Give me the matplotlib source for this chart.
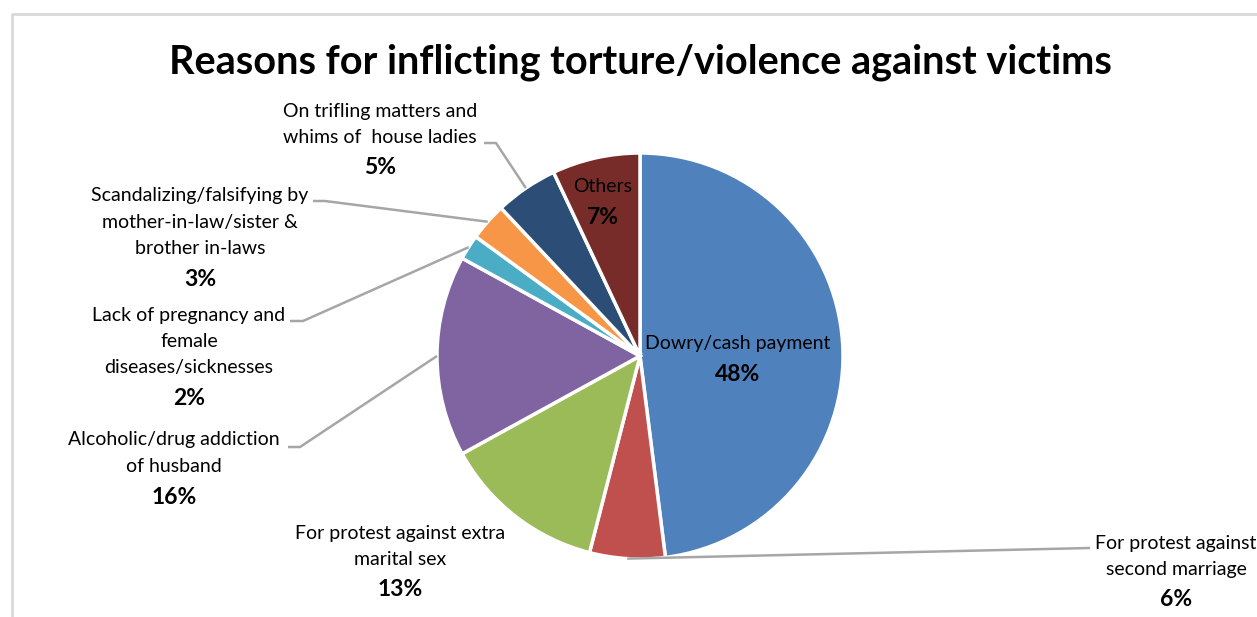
import numpy as np
import matplotlib
matplotlib.use("Agg")
import matplotlib.pyplot as plt

plt.rcParams["font.family"] = ["Lato", "DejaVu Sans"]

# slices, clockwise from 12 o'clock
reasons = [
    "Dowry/cash payment",
    "For protest against\nsecond marriage",
    "For protest against extra\nmarital sex",
    "Alcoholic/drug addiction\nof husband",
    "Lack of pregnancy and\nfemale\ndiseases/sicknesses",
    "Scandalizing/falsifying by\nmother-in-law/sister &\nbrother in-laws",
    "On trifling matters and\nwhims of  house ladies",
    "Others",
]
shares = [48, 6, 13, 16, 2, 3, 5, 7]
colors = ["#4F81BD", "#C0504D", "#9BBB59", "#8064A2",
          "#4BACC6", "#F79646", "#2C4D75", "#772C2A"]

W, H = 1257, 617
CX, CY, R = 640, 356, 203   # pie centre / radius in pixels (y from top)


def Y(py):
    return H - py


fig = plt.figure(figsize=(W / 100, H / 100), dpi=100)
ax = fig.add_axes([0, 0, 1, 1])

ax.pie(shares, colors=colors, startangle=90, counterclock=False,
       center=(CX, Y(CY)), radius=R,
       wedgeprops=dict(edgecolor="white", linewidth=2.5))
ax.set_xlim(0, W)
ax.set_ylim(0, H)
ax.set_aspect("equal")
ax.axis("off")

# chart frame (left and top edges only are in view)
ax.plot([12, 12, W], [0, Y(14), Y(14)], color="#D9D9D9", lw=2, clip_on=False)

ax.text(640, Y(62), "Reasons for inflicting torture/violence against victims",
        ha="center", va="center", fontsize=28.5, fontweight="bold", color="black")

# label placement: (centre x, first line y, leader start, leader bend) ; None = inside
label_pos = [
    (738, 344, None, None),
    (1176, 543, (1090, 548), None),
    (400, 533, None, None),
    (174, 440, (288, 447), (300, 447)),
    (189, 315, (290, 321), (303, 321)),
    (200, 196, (313, 201), (325, 201)),
    (380, 111, (484, 143), (496, 143)),
    (603, 187, None, None),
]

LS = 26.5
cum = np.cumsum([0] + shares[:-1])
for name, pct, c0, (lx, ly, p0, p1) in zip(reasons, shares, cum, label_pos):
    lines = name.split("\n")
    for i, ln in enumerate(lines):
        ax.text(lx, Y(ly + i * LS), ln, ha="center", va="center",
                fontsize=14, color="black")
    ax.text(lx, Y(ly + len(lines) * LS + 4), f"{pct}%", ha="center",
            va="center", fontsize=16.5, fontweight="bold", color="black")
    if p0 is None:
        continue
    # leader ends on the wedge rim at its mid-angle
    mid = np.deg2rad(90 - (c0 + pct / 2) / 100 * 360)
    ex, ey = CX + R * np.cos(mid), CY - R * np.sin(mid)
    pts = [p0] + ([p1] if p1 else []) + [(ex, ey)]
    ax.plot([p[0] for p in pts], [Y(p[1]) for p in pts],
            color="#A6A6A6", lw=1.8, solid_capstyle="butt")

fig.savefig("out.png", dpi=100)
